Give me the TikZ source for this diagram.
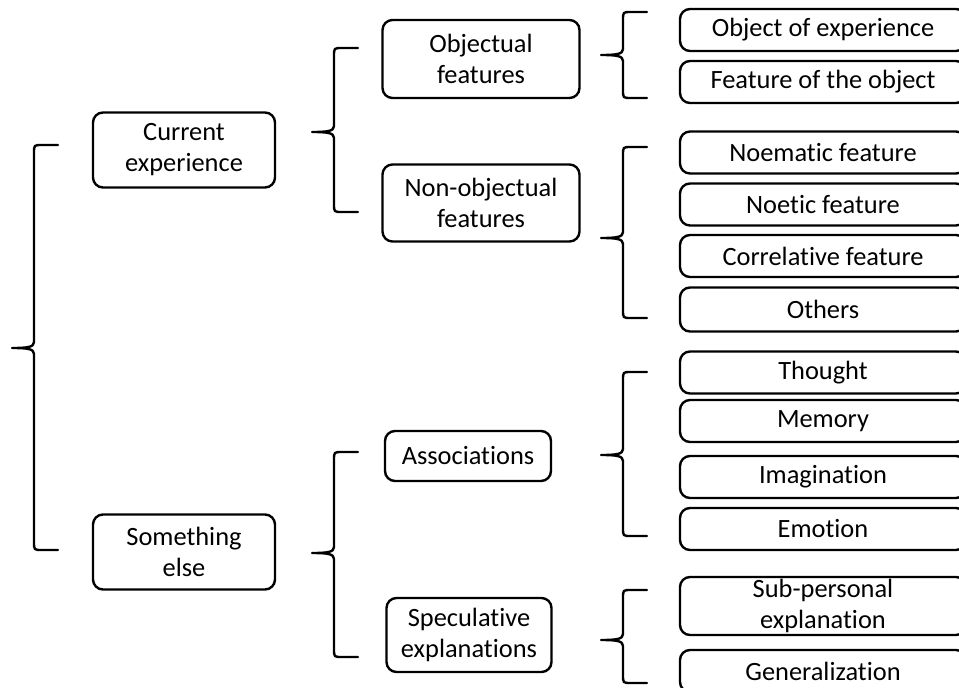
\documentclass[tikz,border=0pt]{standalone}
\usepackage{fontspec}
\setmainfont{Carlito}[Ligatures={NoCommon}]

\tikzset{
  box/.style={draw, line width=2.4pt, rounded corners=10pt, align=center,
    inner sep=0pt, font=\fontsize{26.4}{31}\selectfont},
  topbox/.style={box, minimum width=182pt, minimum height=75pt},
  midbox/.style={box, minimum width=197pt, minimum height=77pt},
  leaf/.style={box, minimum width=286pt, minimum height=42pt},
  brk/.style={line width=2.4pt, line join=round, line cap=round}
}

% #1 x of the stem, #2 top, #3 tip, #4 bottom
\newcommand\curlybr[4]{%
  \draw[brk] (#1+24,#2) -- (#1+8,#2) .. controls (#1,#2) .. (#1,#2+8)
    -- (#1,#3-6) .. controls (#1,#3-1) and (#1-6,#3) .. (#1-22,#3)
    .. controls (#1-6,#3) and (#1,#3+1) .. (#1,#3+6)
    -- (#1,#4-8) .. controls (#1,#4) .. (#1+8,#4) -- (#1+24,#4);}

\begin{document}
\begin{tikzpicture}[x=1pt, y=-1pt]
     \useasboundingbox (0,0) rectangle (959,688);
     \clip (0,0) rectangle (959,688);

            \node[topbox] (cur) at (184,150) {Current\\experience};
            \node[topbox] (other) at (184,552) {Something\\else};

            \node[midbox, minimum height=78pt] (obj) at (481,59) {Objectual\\features};
            \node[midbox] (nonobj) at (481,203) {Non-objectual\\features};
            \node[box, minimum width=166pt, minimum height=50pt] (assoc) at (468,456) {Associations};
            \node[box, minimum width=165pt, minimum height=74pt] (spec) at (469,635) {Speculative\\explanations};

            \node[leaf] (objexp) at (823,30) {Object of experience};
            \node[leaf] (featobj) at (823,82) {Feature of the object};
            \node[leaf] (noem) at (823,152.5) {Noematic feature};
            \node[leaf] (noet) at (823,204.5) {Noetic feature};
            \node[leaf] (corr) at (823,256) {Correlative feature};
            \node[leaf, minimum height=44pt] (others) at (823,309.5) {Others};
            \node[leaf] (thought) at (823,372.5) {Thought};
            \node[leaf] (memory) at (823,421) {Memory};
            \node[leaf] (imag) at (823,477) {Imagination};
            \node[leaf] (emotion) at (823,529) {Emotion};
            \node[leaf, minimum height=58pt] (subpers) at (823,606) {Sub-personal\\explanation};
            \node[leaf] (general) at (823,671) {Generalization};

            \curlybr{34}{145}{348}{550}
            \curlybr{334}{48}{132}{212}
            \curlybr{334}{452}{553}{657}
            \curlybr{623}{12}{55}{98}
            \curlybr{623}{147}{238}{318}
            \curlybr{623}{372}{455}{536}
            \curlybr{623}{590}{640}{683}
     \end{tikzpicture}
\end{document}
